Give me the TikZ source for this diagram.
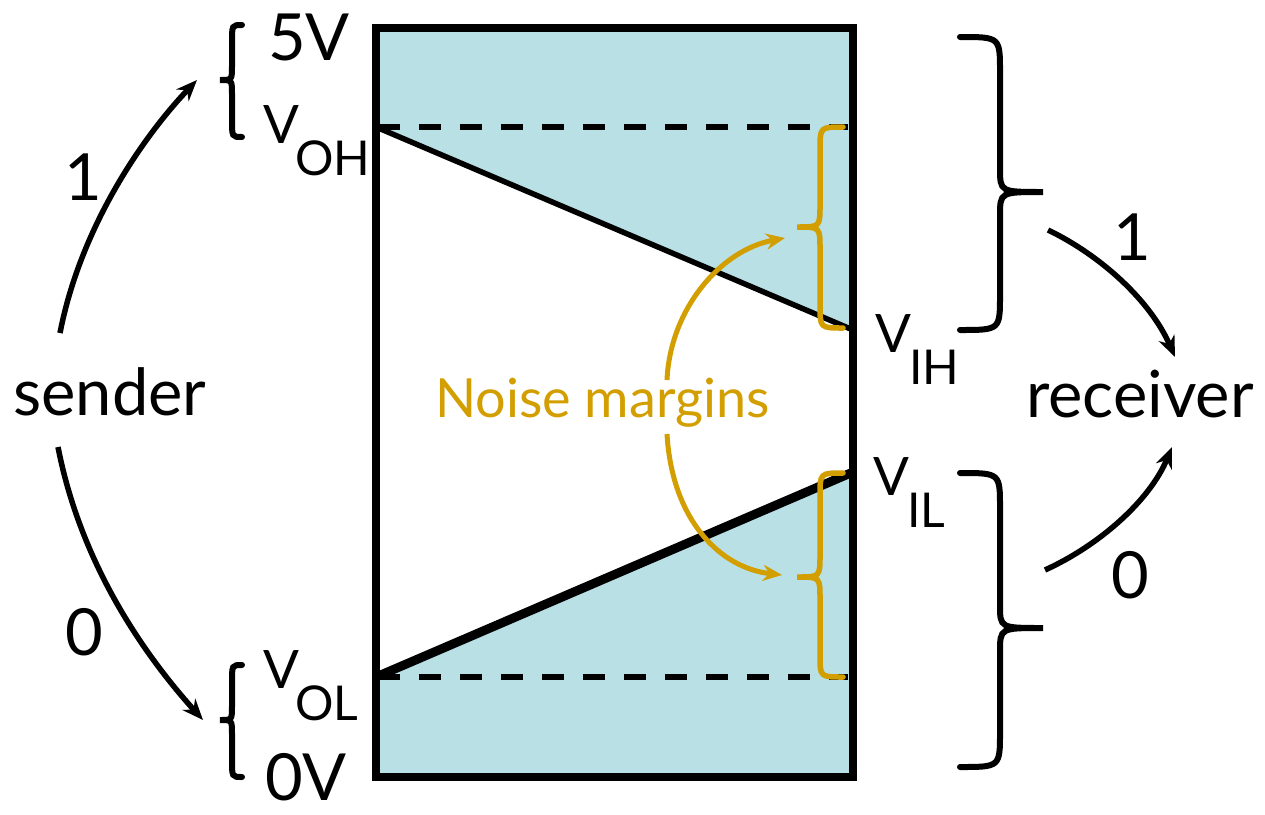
\documentclass[tikz,border=0pt]{standalone}
\usepackage{fontspec}
\setmainfont{Lato}
\usetikzlibrary{arrows.meta}
\definecolor{mblue}{RGB}{185,224,228}
\definecolor{mgold}{RGB}{210,158,0}
\newcommand{\vlabel}[2]{{\fontsize{53}{60}\selectfont V}\kern#1\raisebox{-32pt}{\fontsize{48}{56}\selectfont #2}}
\begin{document}
\begin{tikzpicture}[x=1pt,y=-1pt,
  big/.style={font=\fontsize{65}{72}\selectfont, inner sep=0pt, anchor=base},
  vl/.style={inner sep=0pt, anchor=base west},
  arr/.style={line width=5.5pt, -{Stealth[length=21pt,width=17pt]}},
  garr/.style={line width=5pt, mgold, -{Stealth[length=19pt,width=16pt]}},
  brc/.style={line width=6pt, line cap=round},
  gbrc/.style={line width=5.5pt, mgold, line cap=round},
  dashline/.style={line width=6pt, dash pattern=on 22pt off 19pt}]
\useasboundingbox (0,0) rectangle (1265,814);
% fills
\fill[mblue] (376,28) -- (853,28) -- (853,330) -- (376,127) -- cycle;
\fill[mblue] (376,677) -- (853,472) -- (853,777) -- (376,777) -- cycle;
% dashed lines
\draw[dashline] (378,127) -- (848,127);
\draw[dashline] (378,677) -- (848,677);
% slanted lines
\draw[line width=5.5pt] (376,127) -- (853,330);
\draw[line width=9pt] (376,677) -- (853,472);
% box
\draw[line width=8pt] (376,28) rectangle (853,777);
% gold braces
\draw[gbrc] (843,127) .. controls (820,127) .. (820,150) -- (820,205) .. controls (820,227) .. (797,227) .. controls (820,227) .. (820,249) -- (820,305) .. controls (820,328) .. (843,328);
\draw[gbrc] (843,473) .. controls (820,473) .. (820,496) -- (820,555) .. controls (820,577) .. (797,577) .. controls (820,577) .. (820,599) -- (820,655) .. controls (820,677) .. (843,677);
% black braces
\draw[brc] (242,25) .. controls (232,25) .. (232,42) -- (232,66) .. controls (232,80) .. (220,80) .. controls (232,80) .. (232,94) -- (232,120) .. controls (232,137) .. (242,137);
\draw[brc] (242,665) .. controls (232,665) .. (232,682) -- (232,706) .. controls (232,720) .. (220,720) .. controls (232,720) .. (232,734) -- (232,760) .. controls (232,777) .. (242,777);
\draw[brc] (960,37) .. controls (1000,37) .. (1000,72) -- (1000,168) .. controls (1000,192) .. (1043,192) .. controls (1000,192) .. (1000,216) -- (1000,295) .. controls (1000,330) .. (960,330);
\draw[brc] (960,473) .. controls (1000,473) .. (1000,508) -- (1000,605) .. controls (1000,628) .. (1043,628) .. controls (1000,628) .. (1000,652) -- (1000,732) .. controls (1000,767) .. (960,767);
% texts
\node[big] (sender) at (110,415) {sender};
\node[big] (receiver) at (1140,417) {receiver};
\node[big] (onel) at (83,200) {1};
\node[big] (zerol) at (84,655) {0};
\node[big] (oner) at (1132,260) {1};
\node[big] (zeror) at (1130,598) {0};
\node[big, anchor=base west] (fiveV) at (268,60) {5V};
\node[big, anchor=base west] (zeroV) at (265,800) {0V};
\node[vl] (voh) at (263,143) {\vlabel{-4pt}{OH}};
\node[vl] (vol) at (263,688) {\vlabel{-4pt}{OL}};
\node[vl] (vih) at (875,352) {\vlabel{-2pt}{IH}};
\node[vl] (vil) at (873,495) {\vlabel{-2pt}{IL}};
\node[inner sep=0pt, anchor=base west, text=mgold, font=\fontsize{54}{60}\selectfont] (noise) at (435,417) {Noise margins};
% connector coordinates
\coordinate (s1) at (60,333);
\coordinate (s0) at (58,447);
\coordinate (t1) at (197,80);
\coordinate (t0) at (203,720);
\coordinate (r1) at (1048,230);
\coordinate (r0) at (1045,570);
\coordinate (e1) at (1175,357);
\coordinate (e0) at (1172,447);
\coordinate (n1) at (667,380);
\coordinate (n0) at (667,434);
\coordinate (g1) at (785,238);
\coordinate (g0) at (782,575);
% arrows
\draw[arr] (s1) .. controls (80,230) and (140,140) .. (t1);
\draw[arr] (s0) .. controls (80,560) and (140,650) .. (t0);
\draw[arr] (r1) .. controls (1100,255) and (1150,300) .. (e1);
\draw[arr] (r0) .. controls (1100,545) and (1150,500) .. (e0);
\draw[garr] (n1) .. controls (670,310) and (720,250) .. (g1);
\draw[garr] (n0) .. controls (672,520) and (720,568) .. (g0);
\end{tikzpicture}
\end{document}
